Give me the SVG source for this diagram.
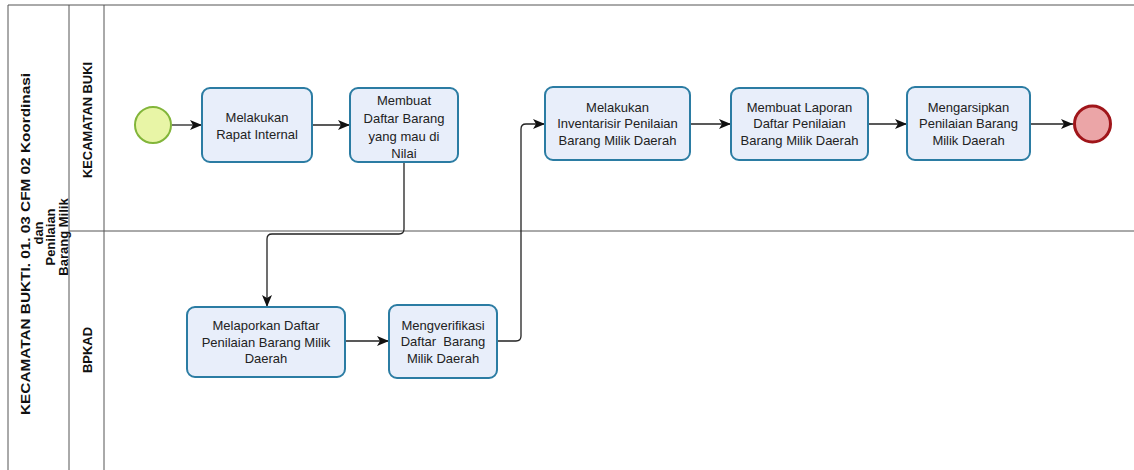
<svg xmlns="http://www.w3.org/2000/svg" width="1134" height="470" viewBox="0 0 1134 470">
<style>
.lane{stroke:#555;stroke-width:1;fill:none}
.task{fill:#e8eefa;stroke:#2b7ca3;stroke-width:2}
.tt{font-family:"Liberation Sans",Arial,sans-serif;font-size:13px;fill:#222;text-anchor:middle}
.hd{font-family:"Liberation Sans",Arial,sans-serif;font-size:13px;font-weight:bold;fill:#111;text-anchor:middle}
.cn{stroke:#222;stroke-width:1.3;fill:none}
</style>
<defs>
<marker id="arr" markerUnits="userSpaceOnUse" markerWidth="13" markerHeight="12" refX="12" refY="5" orient="auto">
<path d="M0,0 L12,5 L0,10 L3,5 z" fill="#111"/>
</marker>
</defs>
<rect width="1134" height="470" fill="#fff"/>
<g id="pool">
<path class="lane" d="M8,470 V5 H1134"/>
<path class="lane" d="M69,5 V470"/>
<path class="lane" d="M104,5 V470"/>
<path class="lane" d="M69,231 H1134" stroke="#777"/>
<text class="hd" transform="translate(25,244) rotate(-90)" dy="0.35em" textLength="342" lengthAdjust="spacingAndGlyphs">KECAMATAN BUKTI. 01. 03 CFM 02 Koordinasi</text>
<text class="hd" transform="translate(38,233) rotate(-90)" dy="0.35em">dan</text>
<text class="hd" transform="translate(50.5,237) rotate(-90)" dy="0.35em">Penilaian</text>
<text class="hd" transform="translate(63,237) rotate(-90)" dy="0.35em">Barang Milik</text>
</g>
<g id="lane-kecamatan">
<text class="hd" transform="translate(87,120) rotate(-90)" dy="0.35em" textLength="116" lengthAdjust="spacingAndGlyphs">KECAMATAN BUKI</text>
</g>
<g id="lane-bpkad">
<text class="hd" transform="translate(87,350) rotate(-90)" dy="0.35em">BPKAD</text>
</g>
<g id="connectors">
<path class="cn" d="M172,125 H202" marker-end="url(#arr)"/>
<path class="cn" d="M312,125 H350" marker-end="url(#arr)"/>
<path class="cn" d="M404,162 V229 Q404,234 399,234 H272 Q267,234 267,239 V307" marker-end="url(#arr)"/>
<path class="cn" d="M345,341 H389" marker-end="url(#arr)"/>
<path class="cn" d="M497,341 H516 Q521,341 521,336 V129 Q521,124 526,124 H545" marker-end="url(#arr)"/>
<path class="cn" d="M690,124 H731" marker-end="url(#arr)"/>
<path class="cn" d="M868,124 H907" marker-end="url(#arr)"/>
<path class="cn" d="M1030,124 H1073" marker-end="url(#arr)"/>
</g>
<g id="start">
<circle cx="153" cy="125" r="18" fill="#e8f5a6" stroke="#82b53a" stroke-width="2"/>
</g>
<g id="task-rapat">
<rect class="task" x="202" y="88" width="110" height="74" rx="8"/>
<text class="tt" x="257" y="117" dy="0.35em">Melakukan</text>
<text class="tt" x="257" y="134" dy="0.35em">Rapat Internal</text>
</g>
<g id="task-daftar">
<rect class="task" x="350" y="88" width="108" height="74" rx="8"/>
<text class="tt" x="404" y="100.5" dy="0.35em">Membuat</text>
<text class="tt" x="404" y="118.2" dy="0.35em">Daftar Barang</text>
<text class="tt" x="404" y="136" dy="0.35em">yang mau di</text>
<text class="tt" x="404" y="153.5" dy="0.35em">Nilai</text>
</g>
<g id="task-melaporkan">
<rect class="task" x="187" y="307" width="158" height="70" rx="8"/>
<text class="tt" x="266" y="325" dy="0.35em">Melaporkan Daftar</text>
<text class="tt" x="266" y="342" dy="0.35em">Penilaian Barang Milik</text>
<text class="tt" x="266" y="358.5" dy="0.35em">Daerah</text>
</g>
<g id="task-verifikasi">
<rect class="task" x="389" y="305" width="108" height="73" rx="8"/>
<text class="tt" x="443" y="325" dy="0.35em">Mengverifikasi</text>
<text class="tt" x="443" y="341.5" dy="0.35em" xml:space="preserve">Daftar  Barang</text>
<text class="tt" x="443" y="358" dy="0.35em">Milik Daerah</text>
</g>
<g id="task-inventarisir">
<rect class="task" x="545" y="87" width="145" height="73" rx="8"/>
<text class="tt" x="617.5" y="107" dy="0.35em">Melakukan</text>
<text class="tt" x="617.5" y="123.5" dy="0.35em">Inventarisir Penilaian</text>
<text class="tt" x="617.5" y="140" dy="0.35em">Barang Milik Daerah</text>
</g>
<g id="task-laporan">
<rect class="task" x="731" y="88" width="137" height="72" rx="8"/>
<text class="tt" x="799.5" y="107" dy="0.35em">Membuat Laporan</text>
<text class="tt" x="799.5" y="123.5" dy="0.35em">Daftar Penilaian</text>
<text class="tt" x="799.5" y="140" dy="0.35em">Barang Milik Daerah</text>
</g>
<g id="task-arsip">
<rect class="task" x="907" y="87" width="123" height="73" rx="8"/>
<text class="tt" x="968.5" y="107" dy="0.35em">Mengarsipkan</text>
<text class="tt" x="968.5" y="123.5" dy="0.35em">Penilaian Barang</text>
<text class="tt" x="968.5" y="140" dy="0.35em">Milik Daerah</text>
</g>
<g id="end">
<circle cx="1092.5" cy="124" r="18" fill="#eba5a7" stroke="#a0151a" stroke-width="3"/>
</g>
</svg>
